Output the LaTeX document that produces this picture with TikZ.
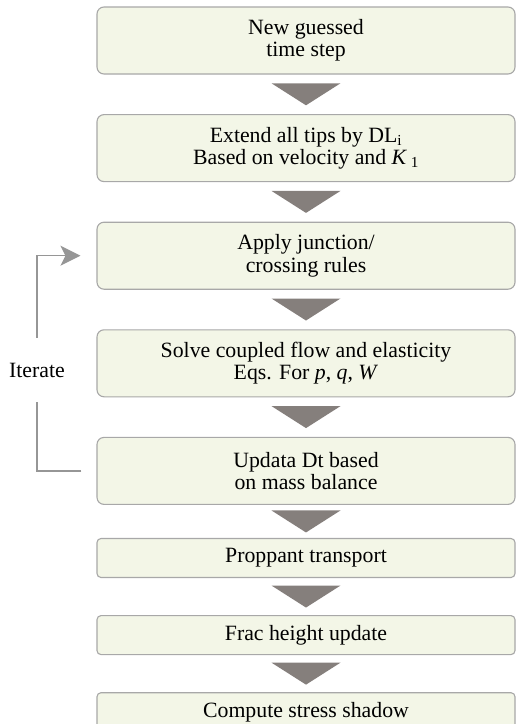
\documentclass[tikz,border=0pt]{standalone}
\usepackage{fontspec}
\setmainfont{Liberation Serif}
\usetikzlibrary{arrows.meta,positioning,calc}
\definecolor{boxfill}{RGB}{243,246,231}
\definecolor{boxline}{RGB}{168,168,168}
\definecolor{tri}{RGB}{133,127,124}
\definecolor{loopgray}{RGB}{150,150,150}

\begin{document}
\begin{tikzpicture}[x=1pt,y=-1pt, every node/.style={font=\fontsize{21.8}{22.5}\selectfont},
  bx/.style={rounded corners=7pt,draw=boxline,line width=1.1pt,fill=boxfill,minimum width=418pt,minimum height=67pt,align=center},
  sbx/.style={bx,rounded corners=4pt,minimum height=39pt},
  arrowtri/.style={fill=tri},
  loopline/.style={draw=loopgray,line width=1.4pt}]
  \useasboundingbox (0,0) rectangle (516,724);
  \node[bx] (guess) at (306,40.5) {New guessed\\time step};
  \node[bx,below=39.5pt of guess] (extend) {Extend all tips by DL\textsubscript{i}\\Based on velocity and \textit{K}\,\textsubscript{1}};
  \node[bx,below=39.5pt of extend] (junction) {Apply junction/\\crossing rules};
  \node[bx,below=39.5pt of junction] (solve) {Solve coupled flow and elasticity\\Eqs. For \textit{p}, \textit{q}, \textit{W}};
  \node[bx,below=39.5pt of solve] (updt) {Updata Dt based\\on mass balance};
  \node[sbx,below=33pt of updt] (proppant) {Proppant transport};
  \node[sbx,below=37pt of proppant] (fracheight) {Frac height update};
  \node[sbx,below=37pt of fracheight] (shadow) {Compute stress shadow};
  % down arrows between the steps
  \foreach \a/\b in {guess/extend,extend/junction,junction/solve,solve/updt,updt/proppant,proppant/fracheight,fracheight/shadow}
    \fill[arrowtri] ($(\a.south)!.5!(\b.north)$) +(-34.5,-11) -- +(34.5,-11) -- +(0,11) -- cycle;
  % iteration loop
  \node[minimum height=64pt,inner sep=0pt] (iter) at (37,370) {Iterate};
  \draw[loopline] ([xshift=-15pt]updt.west) -| (iter.south);
  \draw[loopline,-{Stealth[length=20pt,width=20pt,inset=5pt]}] (iter.north) |- ([xshift=-16pt]junction.west);
\end{tikzpicture}
\end{document}
